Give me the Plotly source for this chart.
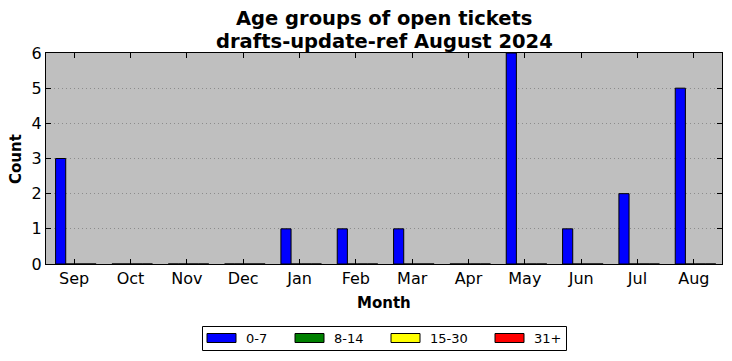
import plotly.graph_objects as go

months = ["Sep", "Oct", "Nov", "Dec", "Jan", "Feb", "Mar", "Apr", "May", "Jun", "Jul", "Aug"]
series_names = ["0-7", "8-14", "15-30", "31+"]
series_colors = ["#0000ff", "#008000", "#ffff00", "#ff0000"]
age_0_7 = [3, 0, 0, 0, 1, 1, 1, 0, 6, 1, 2, 5]
age_8_14 = [0, 0, 0, 0, 0, 0, 0, 0, 0, 0, 0, 0]
age_15_30 = [0, 0, 0, 0, 0, 0, 0, 0, 0, 0, 0, 0]
age_31p = [0, 0, 0, 0, 0, 0, 0, 0, 0, 0, 0, 0]
series_values = [age_0_7, age_8_14, age_15_30, age_31p]

W, H = 732, 361
L, R, T, B = 46, 10, 53, 97
pw, ph = W - L - R, H - T - B
FONT = "DejaVu Sans"

bar_w = 0.18
start = -0.33
xs = list(range(len(months)))

fig = go.Figure()
for k, (name, color, vals) in enumerate(zip(series_names, series_colors, series_values)):
    fig.add_trace(go.Bar(
        x=xs, y=vals, name=name, width=bar_w, offset=start + k * bar_w,
        marker=dict(color=color, line=dict(color="black", width=1)),
        showlegend=False,
    ))

def px2x(px):
    return (px - L) / pw

def py2y(py):
    return (H - B - py) / ph

shapes = []
annotations = []
# legend box
shapes.append(dict(type="rect", xref="paper", yref="paper",
                   x0=px2x(202.5), x1=px2x(566.5), y0=py2y(350.5), y1=py2y(326.5),
                   line=dict(color="black", width=1), fillcolor="white", layer="above"))
leg_rect_left = [207, 295, 391, 495]
for name, color, lx in zip(series_names, series_colors, leg_rect_left):
    shapes.append(dict(type="rect", xref="paper", yref="paper",
                       x0=px2x(lx), x1=px2x(lx + 29), y0=py2y(342.5), y1=py2y(333.5),
                       line=dict(color="black", width=1), fillcolor=color, layer="above"))
    annotations.append(dict(xref="paper", yref="paper", x=px2x(lx + 37), y=py2y(338.5),
                            xanchor="left", yanchor="middle", showarrow=False,
                            text=name, font=dict(family=FONT, size=13, color="black")))

# title lines
annotations.append(dict(xref="paper", yref="paper", x=px2x(384), y=py2y(19),
                        xanchor="center", yanchor="middle", showarrow=False,
                        text="<b>Age groups of open tickets</b>",
                        font=dict(family=FONT, size=19.5, color="black")))
annotations.append(dict(xref="paper", yref="paper", x=px2x(384), y=py2y(41),
                        xanchor="center", yanchor="middle", showarrow=False,
                        text="<b>drafts-update-ref August 2024</b>",
                        font=dict(family=FONT, size=19.5, color="black")))
# axis titles
annotations.append(dict(xref="paper", yref="paper", x=px2x(384), y=py2y(303),
                        xanchor="center", yanchor="middle", showarrow=False,
                        text="<b>Month</b>", font=dict(family=FONT, size=15, color="black")))
annotations.append(dict(xref="paper", yref="paper", x=px2x(16), y=py2y(159),
                        xanchor="center", yanchor="middle", showarrow=False, textangle=-90,
                        text="<b>Count</b>", font=dict(family=FONT, size=15, color="black")))

fig.update_layout(
    width=W, height=H,
    margin=dict(l=L, r=R, t=T, b=B, pad=0, autoexpand=False),
    paper_bgcolor="white", plot_bgcolor="#bfbfbf",
    barmode="overlay",
    font=dict(family=FONT, color="black"),
    shapes=shapes, annotations=annotations,
    showlegend=False,
)
fig.update_xaxes(
    automargin=False,
    range=[-0.5, len(months) - 0.5], tickmode="array", tickvals=xs, ticktext=months,
    ticks="inside", ticklen=5, tickcolor="black", tickwidth=1,
    showline=True, linecolor="black", linewidth=1, mirror="ticks",
    showgrid=False, zeroline=False,
    tickfont=dict(family=FONT, size=16, color="black"),
)
fig.update_yaxes(
    automargin=False,
    range=[0, 6], dtick=1, tick0=0,
    ticks="inside", ticklen=5, tickcolor="black", tickwidth=1,
    showline=True, linecolor="black", linewidth=1, mirror="ticks",
    showgrid=True, gridcolor="#8c8c8c", griddash="1px,3px", gridwidth=1, zeroline=False,
    tickfont=dict(family=FONT, size=16, color="black"),
)

fig.write_html("out.html", config={"displayModeBar": False},
               post_script="document.body.style.margin='0';document.body.style.overflow='hidden';")
